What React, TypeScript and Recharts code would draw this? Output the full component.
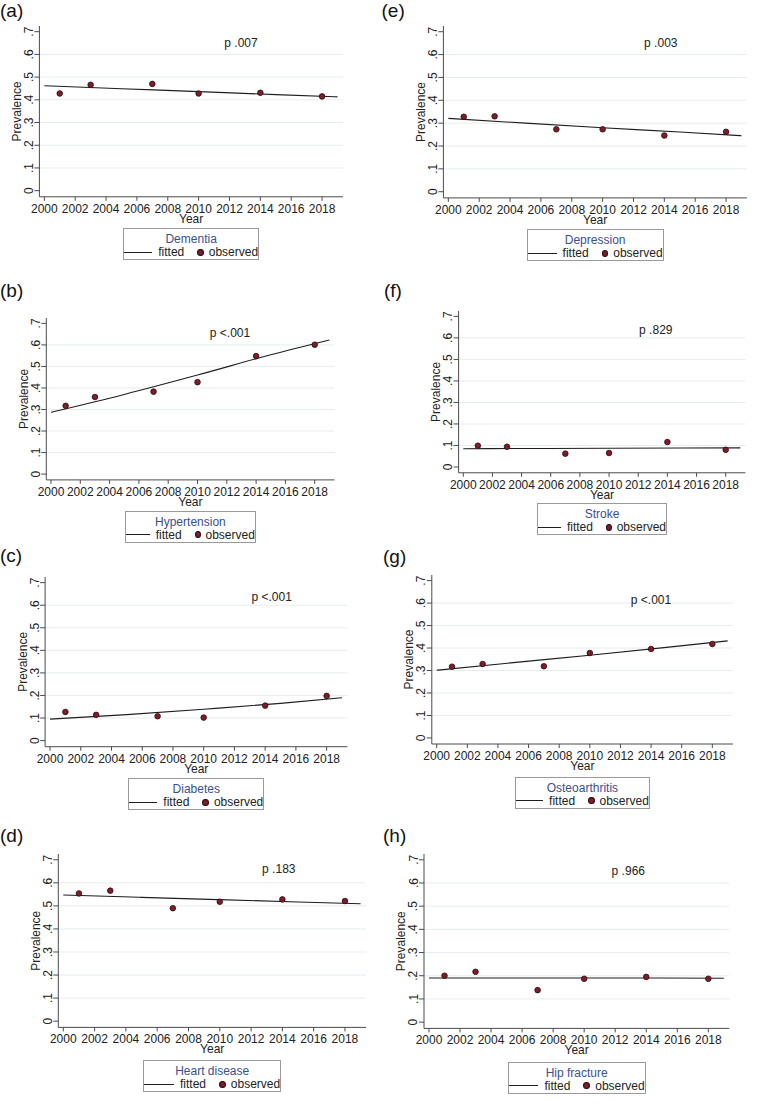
import React from 'react';
import { ComposedChart, Line, Scatter, XAxis, YAxis, ReferenceLine, Label } from 'recharts';

// survey waves with observed prevalence
const years = [2001, 2003, 2007, 2010, 2014, 2018];
const fitYears = [2000, 2005, 2010, 2015, 2019];

const xTicks = [2000, 2002, 2004, 2006, 2008, 2010, 2012, 2014, 2016, 2018];
const yTicks = [0, 0.1, 0.2, 0.3, 0.4, 0.5, 0.6, 0.7];
const gridLevels = [0.1, 0.2, 0.3, 0.4, 0.5, 0.6];

const dementiaObserved = [0.428, 0.466, 0.47, 0.428, 0.431, 0.415];
const dementiaFitted = [0.462, 0.449, 0.436, 0.423, 0.413];

const hypertensionObserved = [0.317, 0.358, 0.383, 0.427, 0.548, 0.601];
const hypertensionFitted = [0.287, 0.37, 0.46, 0.554, 0.623];

const diabetesObserved = [0.127, 0.114, 0.108, 0.102, 0.155, 0.198];
const diabetesFitted = [0.095, 0.115, 0.139, 0.165, 0.19];

const heartObserved = [0.554, 0.566, 0.49, 0.518, 0.528, 0.521];
const heartFitted = [0.547, 0.537, 0.527, 0.517, 0.509];

const depressionObserved = [0.328, 0.33, 0.273, 0.273, 0.246, 0.262];
const depressionFitted = [0.321, 0.3, 0.28, 0.261, 0.245];

const strokeObserved = [0.099, 0.094, 0.062, 0.065, 0.116, 0.08];
const strokeFitted = [0.085, 0.086, 0.087, 0.088, 0.089];

const osteoObserved = [0.317, 0.329, 0.319, 0.378, 0.396, 0.418];
const osteoFitted = [0.301, 0.335, 0.368, 0.403, 0.432];

const hipObserved = [0.2, 0.217, 0.138, 0.187, 0.195, 0.187];
const hipFitted = [0.19, 0.19, 0.19, 0.19, 0.189];

const panels = [
  { id: 'a', title: 'Dementia', observed: dementiaObserved, fitted: dementiaFitted, p: 'p .007' },
  { id: 'b', title: 'Hypertension', observed: hypertensionObserved, fitted: hypertensionFitted, p: 'p <.001' },
  { id: 'c', title: 'Diabetes', observed: diabetesObserved, fitted: diabetesFitted, p: 'p <.001' },
  { id: 'd', title: 'Heart disease', observed: heartObserved, fitted: heartFitted, p: 'p .183' },
  { id: 'e', title: 'Depression', observed: depressionObserved, fitted: depressionFitted, p: 'p .003' },
  { id: 'f', title: 'Stroke', observed: strokeObserved, fitted: strokeFitted, p: 'p .829' },
  { id: 'g', title: 'Osteoarthritis', observed: osteoObserved, fitted: osteoFitted, p: 'p <.001' },
  { id: 'h', title: 'Hip fracture', observed: hipObserved, fitted: hipFitted, p: 'p .966' },
];

// page placement of each panel (plot box, letter, p text, legend box)
const layouts: Record<string, any> = {
  a: { col: 0, left: 39.4, right: 342.9, top: 26.0, bottom: 196.8, letterX: 0, letterY: 1, pX: 241, pY: 43, legTop: 228, legW: 136 },
  b: { col: 0, left: 46.3, right: 334.5, top: 317.9, bottom: 479.8, letterX: 0, letterY: 281, pX: 230, pY: 332.7, legTop: 510.7, legW: 131 },
  c: { col: 0, left: 45.1, right: 347.4, top: 576.7, bottom: 746.4, letterX: 0, letterY: 546, pX: 271.7, pY: 596.7, legTop: 778.3, legW: 136 },
  d: { col: 0, left: 58.3, right: 366.1, top: 853.5, bottom: 1026.9, letterX: 0, letterY: 826, pX: 278.8, pY: 869, legTop: 1060, legW: 138 },
  e: { col: 380, left: 443.4, right: 746.9, top: 26.0, bottom: 197.9, letterX: 381.5, letterY: 1, pX: 660.8, pY: 43, legTop: 229, legW: 137 },
  f: { col: 380, left: 458.6, right: 745.4, top: 311.3, bottom: 473.1, letterX: 384, letterY: 281, pX: 655.8, pY: 330, legTop: 503.3, legW: 130 },
  g: { col: 380, left: 431.8, right: 733.0, top: 575.4, bottom: 744.4, letterX: 383, letterY: 547, pX: 651, pY: 600, legTop: 776.7, legW: 135 },
  h: { col: 380, left: 424.0, right: 729.3, top: 854.2, bottom: 1028.6, letterX: 383, letterY: 826, pX: 628.3, pY: 871, legTop: 1061.7, legW: 138 },
};

const FONT = "'Liberation Sans Narrow', 'Arial Narrow', 'Liberation Sans', Arial, sans-serif";
const TEXT = '#222';
const AXIS = '#4a4a4a';
const GRID = '#e6edf0';
const DOT_FILL = '#7c1d2b';
const DOT_EDGE = '#2e0a10';
const TITLE_BLUE = '#3b4f8e';

const yFormat = (v: number) => (v === 0 ? '0' : '.' + Math.round(v * 10));

function YTick(props: any) {
  const { x, y, payload } = props;
  return (
    <text
      x={x}
      y={y}
      transform={`rotate(-90 ${x} ${y})`}
      textAnchor="middle"
      fontSize={12}
      fontFamily={FONT}
      fill={TEXT}
    >
      {yFormat(payload.value)}
    </text>
  );
}

function Dot(props: any) {
  const { cx, cy } = props;
  return <circle cx={cx} cy={cy} r={2.8} fill={DOT_FILL} stroke={DOT_EDGE} strokeWidth={0.8} />;
}

function Panel({ panel }: { panel: any }) {
  const l = layouts[panel.id];
  const plotW = l.right - l.left;
  const plotH = l.bottom - l.top;
  const chartTop = l.top - 10;
  const width = l.right + 10 - l.col;
  const height = 10 + plotH + 30 + 2;
  const yAxisW = 36;
  const marginLeft = l.left - l.col - yAxisW;

  const observedData = years.map((year, i) => ({ year, value: panel.observed[i] }));
  const fittedData = fitYears.map((year, i) => ({ year, value: panel.fitted[i] }));

  // plot box in chart coordinates
  const px = l.left - l.col;
  const py = 10;

  const plotCenter = l.left + plotW / 2;

  return (
    <>
      <div
        style={{
          position: 'absolute',
          left: l.letterX,
          top: l.letterY,
          fontFamily: "'Liberation Sans', Arial, sans-serif",
          fontSize: 19,
          lineHeight: '19px',
          color: '#111',
        }}
      >
        ({panel.id})
      </div>

      <div style={{ position: 'absolute', left: l.col, top: chartTop, width, height }}>
        <ComposedChart
          width={width}
          height={height}
          margin={{ top: 10, right: 10, left: marginLeft, bottom: 2 }}
        >
          <XAxis
            type="number"
            dataKey="year"
            domain={[1999.68, 2019.35]}
            ticks={xTicks}
            interval={0}
            allowDataOverflow
            height={30}
            tickSize={4}
            tickMargin={3.5}
            stroke={AXIS}
            tick={{ fontSize: 12, fontFamily: FONT, fill: TEXT }}
          >
            <Label
              content={() => (
                <text
                  x={px + plotW / 2}
                  y={py + plotH + 26}
                  textAnchor="middle"
                  fontSize={12}
                  fontFamily={FONT}
                  fill={TEXT}
                >
                  Year
                </text>
              )}
            />
          </XAxis>
          <YAxis
            type="number"
            dataKey="value"
            domain={[-0.027, 0.725]}
            ticks={yTicks}
            interval={0}
            allowDataOverflow
            width={yAxisW}
            tickSize={5}
            tickMargin={1.5}
            stroke={AXIS}
            tick={<YTick />}
          >
            <Label
              content={() => (
                <text
                  x={px - 18.5}
                  y={py + plotH / 2}
                  transform={`rotate(-90 ${px - 18.5} ${py + plotH / 2})`}
                  textAnchor="middle"
                  fontSize={12}
                  fontFamily={FONT}
                  fill={TEXT}
                >
                  Prevalence
                </text>
              )}
            />
          </YAxis>
          {gridLevels.map((g) => (
            <ReferenceLine key={g} y={g} stroke={GRID} strokeWidth={1} />
          ))}
          <Line
            data={fittedData}
            dataKey="value"
            type="monotone"
            stroke="#1e1e1e"
            strokeWidth={1.1}
            dot={false}
            activeDot={false}
            isAnimationActive={false}
          />
          <Scatter data={observedData} dataKey="value" shape={<Dot />} isAnimationActive={false} />
        </ComposedChart>
      </div>

      <div
        style={{
          position: 'absolute',
          left: l.pX,
          top: l.pY,
          transform: 'translate(-50%, -50%)',
          fontFamily: FONT,
          fontSize: 12,
          color: TEXT,
          whiteSpace: 'nowrap',
        }}
      >
        {panel.p}
      </div>

      <div
        style={{
          position: 'absolute',
          left: plotCenter - l.legW / 2,
          top: l.legTop,
          width: l.legW,
          height: 32,
          boxSizing: 'border-box',
          border: '1px solid #9a9a9a',
          background: '#fff',
          fontFamily: FONT,
          fontSize: 12,
          color: TEXT,
        }}
      >
        <div style={{ position: 'absolute', left: 0, right: 0, top: 3, textAlign: 'center', color: TITLE_BLUE, lineHeight: '14px' }}>
          {panel.title}
        </div>
        <div
          style={{
            position: 'absolute',
            left: 0,
            right: 0,
            top: 16,
            display: 'flex',
            justifyContent: 'center',
            alignItems: 'center',
            lineHeight: '14px',
            whiteSpace: 'nowrap',
          }}
        >
          <span style={{ display: 'inline-block', width: 31, height: 0, borderTop: '1.1px solid #1e1e1e', marginRight: 6 }} />
          <span>fitted</span>
          <span
            style={{
              display: 'inline-block',
              width: 5,
              height: 5,
              borderRadius: '50%',
              background: DOT_FILL,
              border: `0.6px solid ${DOT_EDGE}`,
              marginLeft: 13,
              marginRight: 5,
            }}
          />
          <span>observed</span>
        </div>
      </div>
    </>
  );
}

export default function App() {
  return (
    <div style={{ position: 'absolute', left: 0, top: 0, width: 758, height: 1107, background: '#fff', overflow: 'hidden' }}>
      {panels.map((p) => (
        <Panel key={p.id} panel={p} />
      ))}
    </div>
  );
}
